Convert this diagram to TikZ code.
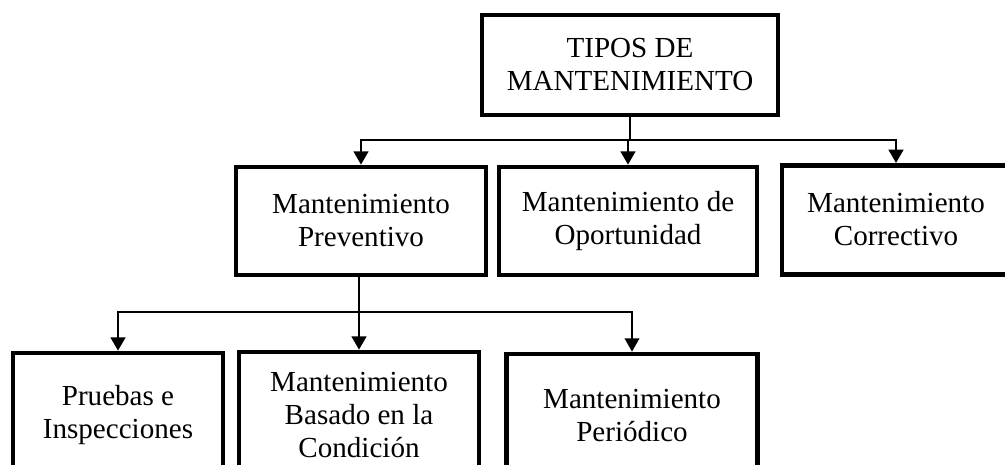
\documentclass[tikz,border=0pt]{standalone}
\usepackage{fontspec}
\setmainfont{Liberation Serif}
\usetikzlibrary{arrows.meta}
\begin{document}
\begin{tikzpicture}[x=0.75pt,y=-0.75pt,
  box/.style={draw, line width=3.5pt, inner sep=0pt, align=center,
    font=\fontsize{21.8}{24.75}\selectfont},
  conn/.style={line width=1.9pt},
  tip/.style={-{Triangle[width=11pt,length=10pt]}}]
\useasboundingbox (0,0) rectangle (1005,464);
\clip (0,0) rectangle (1005,464);
\node[box, minimum width=222pt, minimum height=75pt] (top) at (630,65) {TIPOS DE\\MANTENIMIENTO};
\node[box, minimum width=187.5pt, minimum height=81pt] (prev) at (361,221) {Mantenimiento\\Preventivo};
\node[box, minimum width=193.5pt, minimum height=81pt] (opor) at (628,221) {Mantenimiento de\\Oportunidad};
\node[box, minimum width=171pt, minimum height=82pt] (corr) at (896,220) {Mantenimiento\\Correctivo};
\node[box, minimum width=157.5pt, minimum height=93.75pt] (b1) at (118,415.5) {Pruebas e\\Inspecciones};
\node[box, minimum width=180pt, minimum height=94.5pt] (b2) at (359,415) {Mantenimiento\\Basado en la\\Condición};
\node[box, minimum width=188.25pt, minimum height=93pt] (b3) at (632,416) {Mantenimiento\\Periódico};
\coordinate (j1) at (630,140);
\draw[conn] (top.south) -- (j1);
\draw[conn,tip] (j1) -| (prev.north);
\draw[conn,tip] (j1) -| (opor.north);
\draw[conn,tip] (j1) -| (corr.north);
\coordinate (j2) at (359,312);
\draw[conn] (prev.south -| j2) -- (j2);
\draw[conn,tip] (j2) -- (b2.north);
\draw[conn,tip] (j2) -| (b1.north);
\draw[line width=1.2pt,tip] (j2) -| (b3.north);
\end{tikzpicture}
\end{document}
